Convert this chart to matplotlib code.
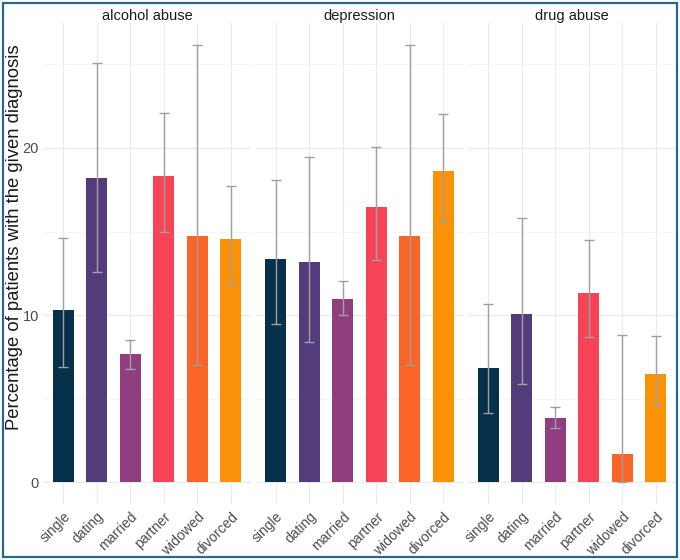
import matplotlib
matplotlib.use("Agg")
import matplotlib.pyplot as plt
from matplotlib.patches import Rectangle
from matplotlib.ticker import MultipleLocator

plt.rcParams['font.family'] = ['Liberation Sans', 'DejaVu Sans']

categories = ["single", "dating", "married", "partner", "widowed", "divorced"]
facets = ["alcohol abuse", "depression", "drug abuse"]
colors = ["#07304A", "#533C7C", "#913E81", "#F64456", "#FB6527", "#FB9106"]

alcohol = [10.3, 18.22, 7.65, 18.32, 14.73, 14.57]
alcohol_lo = [6.9, 12.56, 6.8, 14.99, 7.0, 11.84]
alcohol_hi = [14.63, 25.1, 8.52, 22.08, 26.15, 17.7]

depression = [13.33, 13.19, 10.96, 16.47, 14.73, 18.62]
depression_lo = [9.48, 8.36, 9.98, 13.29, 6.99, 15.59]
depression_hi = [18.07, 19.46, 12.02, 20.08, 26.15, 22.04]

drug = [6.85, 10.04, 3.85, 11.34, 1.66, 6.45]
drug_lo = [4.13, 5.87, 3.25, 8.66, 0.0, 4.61]
drug_hi = [10.64, 15.81, 4.51, 14.49, 8.8, 8.76]

values = [alcohol, depression, drug]
lows = [alcohol_lo, depression_lo, drug_lo]
highs = [alcohol_hi, depression_hi, drug_hi]

W, H = 680, 560
fig = plt.figure(figsize=(W / 100, H / 100), dpi=100)

panel_left = [43, 255.5, 468]
panel_w = 208
top_px, bot_px = 23.4, 504

ymax_data = max(max(h) for h in highs)
ylo, yhi = -0.05 * ymax_data, ymax_data * 1.05

x = list(range(len(categories)))
for i, name in enumerate(facets):
    ax = fig.add_axes([panel_left[i] / W, 1 - bot_px / H, panel_w / W, (bot_px - top_px) / H])
    ax.set_axisbelow(True)
    vals = values[i]
    lo = [v - l for v, l in zip(vals, lows[i])]
    hi = [h - v for v, h in zip(vals, highs[i])]
    ax.bar(x, vals, width=0.62, color=colors, zorder=2)
    ax.errorbar(x, vals, yerr=[lo, hi], fmt='none', ecolor='#a0a0a0',
                elinewidth=1.0, capsize=3.6, capthick=1.0, zorder=3)
    ax.set_xlim(-0.6, len(categories) - 0.4)
    ax.set_ylim(ylo, yhi)
    ax.yaxis.set_major_locator(MultipleLocator(10))
    ax.yaxis.set_minor_locator(MultipleLocator(5))
    ax.grid(True, which='major', color='#ebebeb', linewidth=0.9)
    ax.grid(True, which='minor', axis='y', color='#f4f4f4', linewidth=0.6)
    for s in ax.spines.values():
        s.set_visible(False)
    ax.set_xticks(x)
    ax.set_xticklabels(categories, rotation=45, ha='right', rotation_mode='anchor',
                       fontsize=10, color='#4d4d4d')
    ax.tick_params(axis='both', which='both', length=0, pad=4)
    if i == 0:
        ax.tick_params(axis='y', labelsize=10.5, labelcolor='#4d4d4d', pad=3)
    else:
        ax.set_yticklabels([])
    ax.set_title(name, fontsize=10.5, color='#1a1a1a', pad=2)

fig.text(15 / W, 1 - 237 / H, "Percentage of patients with the given diagnosis",
         rotation=90, ha='center', va='center', fontsize=13.3, color='#1a1a1a')

fig.patches.append(Rectangle((3 / W, 3 / H), 1 - 6 / W, 1 - 6 / H, transform=fig.transFigure,
                             fill=False, edgecolor='#256890', linewidth=1.6))

fig.savefig("out.png", dpi=100, facecolor='white')
